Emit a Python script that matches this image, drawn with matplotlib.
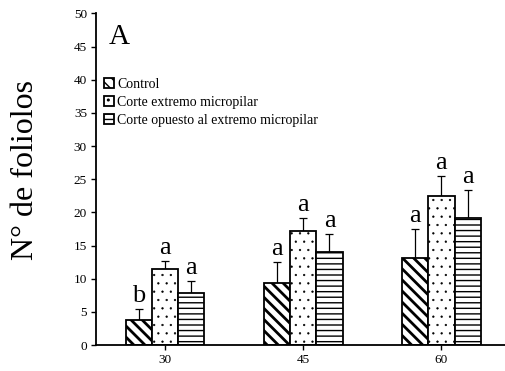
import numpy as np
import matplotlib
matplotlib.use("Agg")
import matplotlib.pyplot as plt

plt.rcParams["font.family"] = ["Liberation Serif", "DejaVu Serif"]

days = ["30", "45", "60"]
series = ["Control", "Corte extremo micropilar", "Corte opuesto al extremo micropilar"]
means = {
    "Control": [3.8, 9.3, 13.1],
    "Corte extremo micropilar": [11.4, 17.2, 22.4],
    "Corte opuesto al extremo micropilar": [7.9, 14.0, 19.2],
}
errs = {
    "Control": [1.7, 3.2, 4.4],
    "Corte extremo micropilar": [1.3, 2.0, 3.1],
    "Corte opuesto al extremo micropilar": [1.8, 2.8, 4.1],
}
letters = {
    "Control": ["b", "a", "a"],
    "Corte extremo micropilar": ["a", "a", "a"],
    "Corte opuesto al extremo micropilar": ["a", "a", "a"],
}

hatches = {"Control": "\\\\\\", "Corte extremo micropilar": "..",
           "Corte opuesto al extremo micropilar": "---"}
hatch_lw = {"Control": 2.0, "Corte extremo micropilar": 0.4,
            "Corte opuesto al extremo micropilar": 1.0}

fig = plt.figure(figsize=(5.05, 3.71), dpi=100)
ax = fig.add_axes([0.19, 0.07, 0.81, 0.894])

x = np.arange(len(days))
w = 0.19
handles = []
for i, s in enumerate(series):
    pos = x + (i - 1) * w
    with plt.rc_context({"hatch.linewidth": hatch_lw[s]}):
        b = ax.bar(pos, means[s], width=w, color="white", edgecolor="black",
                   linewidth=1.3, hatch=hatches[s], zorder=2)
    handles.append(b)
    ax.errorbar(pos, means[s], yerr=[np.zeros(3), errs[s]], fmt="none",
                ecolor="black", elinewidth=0.9, capsize=3, capthick=0.9, zorder=1)
    for p, m, e, l in zip(pos, means[s], errs[s], letters[s]):
        ax.text(p, m + e + 0.3, l, ha="center", va="bottom", fontsize=19)

ax.set_xlim(-0.5, 2.46)
ax.set_ylim(0, 50)
ax.set_yticks(range(0, 51, 5))
ax.set_xticks(x)
ax.set_xticklabels(days)
ax.tick_params(axis="both", labelsize=9.5, direction="out", length=3.5, width=1, pad=3)
for side in ("top", "right"):
    ax.spines[side].set_visible(False)
for side in ("left", "bottom"):
    ax.spines[side].set_linewidth(1.3)

ax.set_ylabel("N° de foliolos", fontsize=23)
ax.yaxis.set_label_coords(-0.137, 0.528)
ax.text(0.032, 0.93, "A", transform=ax.transAxes, fontsize=21, ha="left", va="center")

leg = ax.legend(handles, series, loc="upper left", bbox_to_anchor=(0.0, 0.83),
                frameon=False, fontsize=10, handlelength=0.7, handleheight=0.7,
                handletextpad=0.25, labelspacing=0.35, borderaxespad=0.2)

fig.savefig("out.png", dpi=100)
